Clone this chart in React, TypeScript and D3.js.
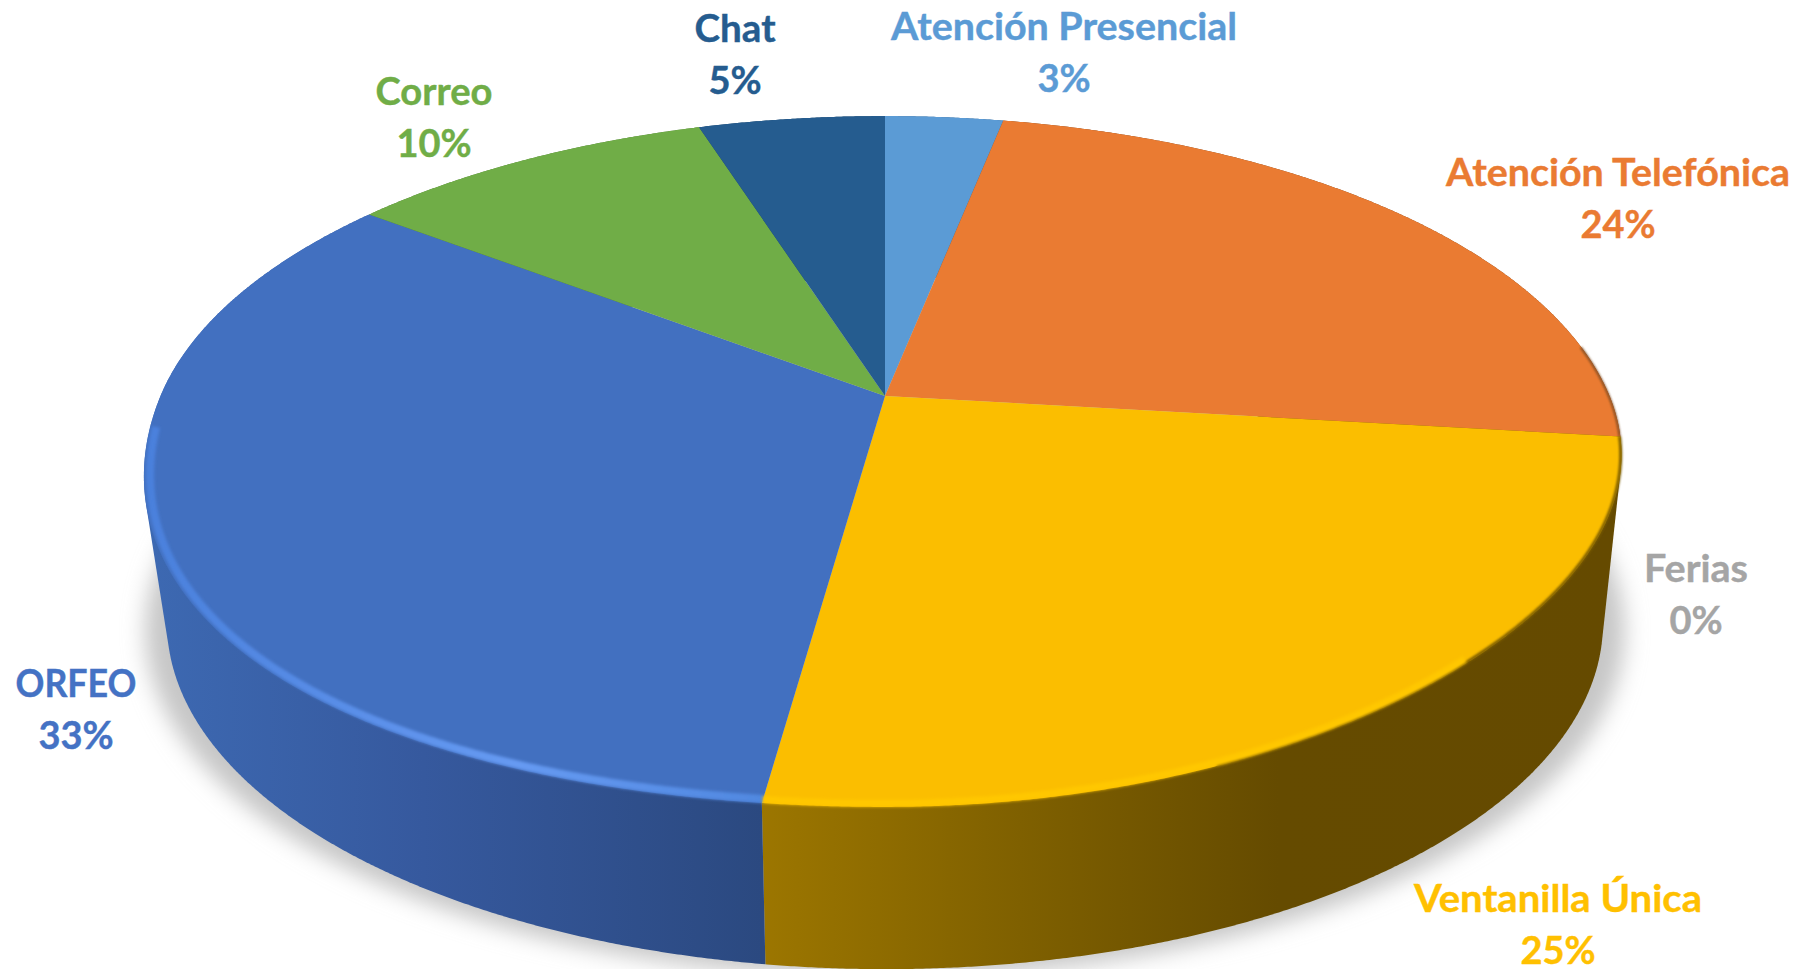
import React from "react";
import * as d3 from "d3";

const categories = ["Atención Presencial", "Atención Telefónica", "Ventanilla Única", "Ferias", "ORFEO", "Correo", "Chat"];
const shares = [3.1, 23.8, 25.3, 0, 33.2, 9.7, 4.9];
const sliceColors = ["#5B9BD5", "#EA7B32", "#FBBE00", "#A5A5A5", "#4270C0", "#70AD47", "#255C8F"];
const labelColors = ["#5B9BD5", "#EA7B32", "#FFC000", "#A5A5A5", "#4472C4", "#70AD47", "#255C8F"];
const labelX = [1064, 1618, 1558, 1696, 76, 434, 735];
const labelY = [39.5, 185.5, 911.5, 581.5, 697, 104.5, 41.5];
const labelWidth = [346, 344, 288, 104, 121, 117, 81];

const W = 1804, H = 969;
const cx = 885, cy = 396, R = 724.5, S = 333, K = 0.1896;
const cy2 = 557, R2 = 705, S2 = 334;

type P = [number, number];
// the reference's rim is not a perfect ellipse: fuller on the front left, tighter on the front right
const rimShape = (t: number) => {
  const q = Math.sin(2 * t) ** 2;
  if (t > Math.PI && t < 1.5 * Math.PI) return 1 + 0.025 * q;
  if (t > Math.PI / 2 && t < Math.PI) return 1 - 0.015 * q;
  return 1;
};
const top = (t: number, r = 1): P => {
  const rr = r * rimShape(t);
  const w = 1 + K * rr * Math.cos(t);
  return [cx + (R * rr * Math.sin(t)) / w, cy - (S * rr * Math.cos(t)) / w];
};
const bottom = (t: number): P => {
  const w = 1 + K * Math.cos(t);
  return [cx + (R2 * Math.sin(t)) / w, cy2 - (S2 * Math.cos(t)) / w];
};
const samples = (a: number, b: number) => [...d3.range(a, b, 0.004), b];
const closed = d3.line().curve(d3.curveLinearClosed);
const open = d3.line();

const arcs = d3.pie<number>().sort(null).startAngle(0).endAngle(2 * Math.PI)(shares);
const percent = (v: number) => `${d3.format(".0f")(v)}%`;

const wallFill = ["#2d5f8e", "#74401a", "url(#wallYellow)", "#666", "url(#wallBlue)", "#4c7a30", "#1a4468"];

export default function App() {
  const outline = samples(0, 2 * Math.PI);
  const yellow = arcs[2];
  const blue = arcs[4];
  return (
    <svg
      width={W}
      height={H}
      viewBox={`0 0 ${W} ${H}`}
      style={{ position: "absolute", left: 0, top: 0, display: "block", background: "#fff" }}
    >
      <defs>
        <filter id="soft" x="-10%" y="-10%" width="120%" height="120%">
          <feGaussianBlur stdDeviation="11" />
        </filter>
        <filter id="rim" filterUnits="userSpaceOnUse" x="0" y="0" width={W} height={H}>
          <feGaussianBlur stdDeviation="1.8" />
        </filter>
        <filter id="edge" filterUnits="userSpaceOnUse" x="0" y="0" width={W} height={H}>
          <feGaussianBlur stdDeviation="1" />
        </filter>
        <linearGradient id="wallBlue" gradientUnits="userSpaceOnUse" x1="146" x2="762" y1="0" y2="0">
          <stop offset="0" stopColor="#3D69B2" />
          <stop offset="0.45" stopColor="#36599E" />
          <stop offset="1" stopColor="#2B4980" />
        </linearGradient>
        <linearGradient id="wallYellow" gradientUnits="userSpaceOnUse" x1="762" x2="1622" y1="0" y2="0">
          <stop offset="0" stopColor="#9C7600" />
          <stop offset="0.3" stopColor="#7F6000" />
          <stop offset="0.6" stopColor="#654B00" />
          <stop offset="1" stopColor="#654A00" />
        </linearGradient>
        <linearGradient id="rimBlue" gradientUnits="userSpaceOnUse" x1="146" x2="762" y1="0" y2="0">
          <stop offset="0" stopColor="#4A80DC" />
          <stop offset="0.6" stopColor="#669AF2" />
          <stop offset="1" stopColor="#5088E0" />
        </linearGradient>
      </defs>

      <path
        d={closed(outline.map((t) => { const p = bottom(t); return [cx + (p[0] - cx) * 1.03, p[1] + 8] as P; })) ?? ""}
        fill="#c6c6c6"
        filter="url(#soft)"
      />

      {arcs.map((a, i) => {
        if (a.endAngle <= a.startAngle) return null;
        const ts = samples(a.startAngle, a.endAngle);
        const hull = d3.polygonHull([...ts.map((t) => top(t)), ...ts.map((t) => bottom(t))]);
        return <path key={`wall${i}`} d={closed(hull ?? []) ?? ""} fill={wallFill[i]} />;
      })}

      {arcs.map((a, i) =>
        a.endAngle > a.startAngle ? (
          <path
            key={`top${i}`}
            d={closed([[cx, cy] as P, ...samples(a.startAngle, a.endAngle).map((t) => top(t))]) ?? ""}
            fill={sliceColors[i]}
          />
        ) : null
      )}

      <path
        d={open(samples(1.42, yellow.startAngle).map((t) => top(t, 0.999))) ?? ""}
        fill="none"
        stroke="#7a4a20"
        strokeWidth={2}
        filter="url(#edge)"
      />
      <path
        d={open(samples(yellow.startAngle, 2.75).map((t) => top(t, 0.999))) ?? ""}
        fill="none"
        stroke="#7a5c00"
        strokeWidth={3}
        filter="url(#edge)"
      />
      <path
        d={open(samples(blue.startAngle, 4.62).map((t) => top(t, 0.992))) ?? ""}
        fill="none"
        stroke="url(#rimBlue)"
        strokeWidth={8}
        filter="url(#rim)"
      />
      <path
        d={open(samples(2.35, yellow.endAngle).map((t) => top(t, 0.993))) ?? ""}
        fill="none"
        stroke="#FFC700"
        strokeWidth={7}
        filter="url(#rim)"
      />

      {categories.map((c, i) => (
        <g
          key={c}
          textAnchor="middle"
          fontFamily="Lato, Carlito, sans-serif"
          fontWeight={700}
          fontSize={38}
          fill={labelColors[i]}
          stroke={labelColors[i]}
          strokeWidth={0.4}
        >
          <text x={labelX[i]} y={labelY[i]} textLength={labelWidth[i]} lengthAdjust="spacingAndGlyphs">{c}</text>
          <text x={labelX[i]} y={labelY[i] + 52}>{percent(shares[i])}</text>
        </g>
      ))}
    </svg>
  );
}
